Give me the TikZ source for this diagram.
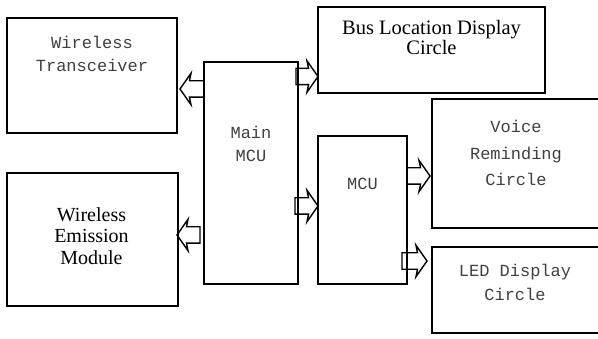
\documentclass[tikz,border=0pt]{standalone}
\usepackage{fontspec}
\setmainfont{Liberation Serif}
\setmonofont{Liberation Mono}
\usepackage{tikz}
\usetikzlibrary{calc, shapes.arrows, positioning, backgrounds}

\begin{document}
\begin{tikzpicture}[
    x=1pt, y=1pt,
    box/.style={rectangle, draw=black, line width=1.6pt, anchor=north west, inner sep=0pt, outer sep=0pt},
    blockarrow/.style={single arrow, draw=black, fill=white, line width=1.4pt, inner xsep=0pt, inner ysep=7.5pt, outer sep=0pt, text height=0pt, text depth=0pt, text width=0pt, single arrow head extend=7.5pt, single arrow tip angle=110, single arrow head indent=1.5pt, minimum height=23pt, anchor=tail},
    monotxt/.style={align=center, inner sep=0pt, text=black!75, font=\ttfamily\fontsize{17pt}{23pt}\selectfont},
    serifytxt/.style={align=center, inner sep=0pt, font=\rmfamily\fontsize{20pt}{21.5pt}\selectfont}
]
    \clip (0,0) rectangle (598,338);

    % Blocs
    \node [box, minimum width=170pt, minimum height=115pt] (trans) at (7,320) {};
    \node [box, minimum width=171pt, minimum height=133pt] (emis) at (7,165) {};
    \node [box, minimum width=94pt, minimum height=222pt] (main) at (204,276) {};
    \node [box, minimum width=227pt, minimum height=86pt] (bus) at (318,331) {};
    \node [box, minimum width=89pt, minimum height=148pt] (mcu) at (318,202) {};
    \node [box, minimum width=170pt, minimum height=129pt] (voice) at (432,239) {};
    \node [box, minimum width=170pt, minimum height=86pt] (led) at (432,91) {};

    % Textes
    \node [monotxt] (transtxt) at ([yshift=-35.5pt]trans.north) {Wireless\\Transceiver};
    \node [serifytxt] (emistxt) at ([xshift=-1pt, yshift=-63pt]emis.north) {Wireless\\Emission\\Module};
    \node [monotxt] (maintxt) at ([yshift=-82pt]main.north) {Main\\MCU};
    \node [serifytxt, font=\rmfamily\fontsize{20.5pt}{20pt}\selectfont] (bustxt) at ([yshift=-30pt]bus.north) {Bus Location Display\\Circle};
    \node [monotxt] (mcutxt) at ([yshift=-48pt]mcu.north) {MCU};
    \node [monotxt, font=\ttfamily\fontsize{17pt}{26.5pt}\selectfont] (voicetxt) at ([xshift=-1pt, yshift=-54pt]voice.north) {Voice\\Reminding\\Circle};
    \node [monotxt, font=\ttfamily\fontsize{17pt}{24pt}\selectfont] (ledtxt) at ([xshift=-2pt, yshift=-35pt]led.north) {LED Display\\Circle};

    % Fleches
    \begin{scope}[on background layer]
    \node [blockarrow, shape border rotate=180, minimum height=24pt] (a1) at ([yshift=84pt]main.west) {};
    \node [blockarrow, shape border rotate=180] (a2) at ([xshift=-4pt, yshift=-62pt]main.west) {};
    \node [blockarrow, minimum height=22pt] (a3) at ([xshift=-2pt, yshift=96.5pt]main.east) {};
    \node [blockarrow] (a4) at ([xshift=-3pt, yshift=-33pt]main.east) {};
    \node [blockarrow] (a5) at ([yshift=34pt]mcu.east) {};
    \node [blockarrow, minimum height=25pt] (a6) at ([xshift=-5pt, yshift=-51pt]mcu.east) {};
    \end{scope}

\end{tikzpicture}
\end{document}
